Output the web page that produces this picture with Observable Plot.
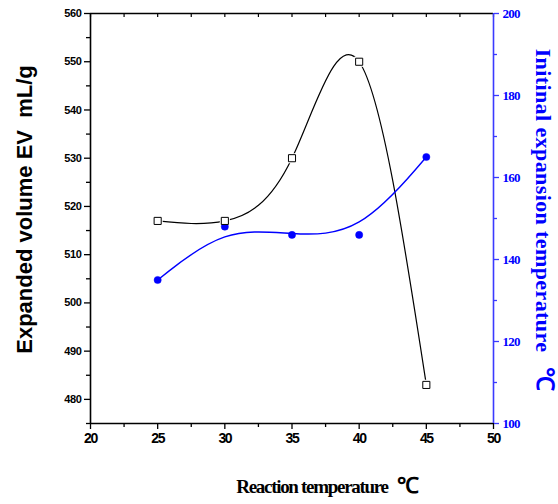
<!DOCTYPE html>
<html>
<head>
<meta charset="utf-8">
<script src="https://cdn.jsdelivr.net/npm/d3@7"></script>
<script src="https://cdn.jsdelivr.net/npm/@observablehq/plot@0.6"></script>
<style>
  html, body { margin: 0; padding: 0; background: #fff; }
  #chart svg { display: block; }
  g.lt text { letter-spacing: -0.4px; }
  g.bt text { letter-spacing: -1.4px; }
  g.rt text { letter-spacing: -0.8px; }
  g.xt text { letter-spacing: -1.3px; }
  g.rtitle text { letter-spacing: 0.4px; }
</style>
</head>
<body>
<div id="chart"></div>
<script>
// ---- data ----
const reactionTemp = [25, 30, 35, 40, 45];
const expandedVolume = [517, 517, 530, 550, 483];          // mL/g (left axis)
const initialExpansionTemp = [135, 148, 146, 146, 165];   // ℃ (right axis)

const xMajorTicks = [20, 25, 30, 35, 40, 45, 50];
const xMinorTicks = [22.5, 27.5, 32.5, 37.5, 42.5, 47.5];
const leftMajorTicks = [480, 490, 500, 510, 520, 530, 540, 550, 560];
const leftMinorTicks = [475, 485, 495, 505, 515, 525, 535, 545, 555];
const rightMajorTicks = [100, 120, 140, 160, 180, 200];
const rightMinorTicks = [110, 130, 150, 170, 190];

const xTitle = "Reaction temperature";
const leftTitle = "Expanded volume EV\u00a0\u00a0mL/g";
const rightTitle = "Initinal expansion temperature";
const degC = "\u2103";

// ---- scales ----
const xDomain = [20, 50];
const leftDomain = [475, 560];
const rightDomain = [100, 200];
const toLeft = v => leftDomain[0] + (v - rightDomain[0]) * (leftDomain[1] - leftDomain[0]) / (rightDomain[1] - rightDomain[0]);
const fromLeft = v => rightDomain[0] + (v - leftDomain[0]) * (rightDomain[1] - rightDomain[0]) / (leftDomain[1] - leftDomain[0]);

const ev = reactionTemp.map((t, i) => ({t, v: expandedVolume[i]}));
const it = reactionTemp.map((t, i) => ({t, v: toLeft(initialExpansionTemp[i])}));

const BLUE = "#0000ff";
const BLUE_AXIS = "#3a3aff";
const SANS = "Liberation Sans, Arial, sans-serif";
const SERIF = "Liberation Serif, Times New Roman, serif";

const chart = Plot.plot({
  width: 558,
  height: 504,
  marginLeft: 90,
  marginRight: 65,
  marginTop: 13,
  marginBottom: 81,
  x: {domain: xDomain},
  y: {domain: leftDomain},
  style: {background: "white"},
  marks: [
    // bottom axis
    Plot.axisX(xMajorTicks, {anchor: "bottom", tickSize: 6, tickPadding: 4, fontSize: 14, fontWeight: "bold", fontFamily: SANS, strokeWidth: 1.3, label: null, className: "bt"}),
    Plot.axisX(xMinorTicks, {anchor: "bottom", tickSize: 4, tickFormat: () => "", strokeWidth: 1.3, label: null}),
    // top inward ticks
    Plot.tickX(xMajorTicks.concat(xMinorTicks), {x: d => d, insetBottom: 406, stroke: "black", strokeWidth: 1.2}),
    // left axis
    Plot.axisY(leftMajorTicks, {anchor: "left", tickSize: 6, tickPadding: 3, fontSize: 11, fontWeight: "bold", fontFamily: SANS, strokeWidth: 1.3, label: null, className: "lt"}),
    Plot.axisY(leftMinorTicks, {anchor: "left", tickSize: 4, tickFormat: () => "", strokeWidth: 1.3, label: null}),
    // right axis (blue)
    Plot.axisY(rightMajorTicks.map(toLeft), {anchor: "right", tickSize: 5, tickPadding: 4, tickFormat: d => Math.round(fromLeft(d)), fontSize: 13, fontWeight: "bold", fontFamily: SERIF, stroke: BLUE_AXIS, fill: BLUE, strokeWidth: 1.3, label: null, className: "rt"}),
    Plot.axisY(rightMinorTicks.map(toLeft), {anchor: "right", tickSize: 3, tickFormat: () => "", stroke: BLUE_AXIS, strokeWidth: 1.3, label: null}),
    // frame
    Plot.ruleY([leftDomain[1]], {stroke: "black", strokeWidth: 1.6}),
    Plot.ruleY([leftDomain[0]], {stroke: "black", strokeWidth: 1.6}),
    Plot.ruleX([xDomain[0]], {stroke: "black", strokeWidth: 1.6}),
    Plot.ruleX([xDomain[1]], {stroke: BLUE_AXIS, strokeWidth: 1.6}),
    // curves
    Plot.line(ev, {x: "t", y: "v", curve: "natural", stroke: "black", strokeWidth: 1.2}),
    Plot.dot(ev, {x: "t", y: "v", symbol: "square", r: 4, fill: "white", stroke: "white", strokeWidth: 3}),
    Plot.line(it, {x: "t", y: "v", curve: "basis", stroke: BLUE, strokeWidth: 1.4}),
    Plot.dot(it, {x: "t", y: "v", r: 3.6, fill: BLUE, stroke: BLUE, strokeWidth: 0.5}),
    Plot.dot(ev, {x: "t", y: "v", symbol: "square", r: 4, fill: "white", stroke: "black", strokeWidth: 1}),
    // titles
    Plot.text([leftTitle], {text: d => d, frameAnchor: "left", dx: -66, dy: -9, rotate: -90, textAnchor: "middle", lineAnchor: "middle", fontSize: 22, fontWeight: "bold", fontFamily: SANS, fill: "black"}),
    Plot.text([rightTitle], {text: d => d, frameAnchor: "right", dx: 50, dy: -18, rotate: 90, textAnchor: "middle", lineAnchor: "middle", fontSize: 22, fontWeight: "bold", fontFamily: SERIF, fill: BLUE, className: "rtitle"}),
    Plot.text([degC], {text: d => d, frameAnchor: "right", dx: 51, dy: 160, rotate: 90, textAnchor: "middle", lineAnchor: "middle", fontSize: 24, fontWeight: "bold", fontFamily: SANS, fill: BLUE}),
    Plot.text([xTitle], {text: d => d, frameAnchor: "bottom", dx: 20, dy: 63, textAnchor: "middle", lineAnchor: "middle", fontSize: 19, fontWeight: "bold", fontFamily: SERIF, fill: "black", className: "xt"}),
    Plot.text([degC], {text: d => d, frameAnchor: "bottom", dx: 116, dy: 62, textAnchor: "middle", lineAnchor: "middle", fontSize: 22, fontWeight: "bold", fontFamily: SANS, fill: "black"})
  ]
});
document.getElementById("chart").appendChild(chart);
</script>
</body>
</html>
